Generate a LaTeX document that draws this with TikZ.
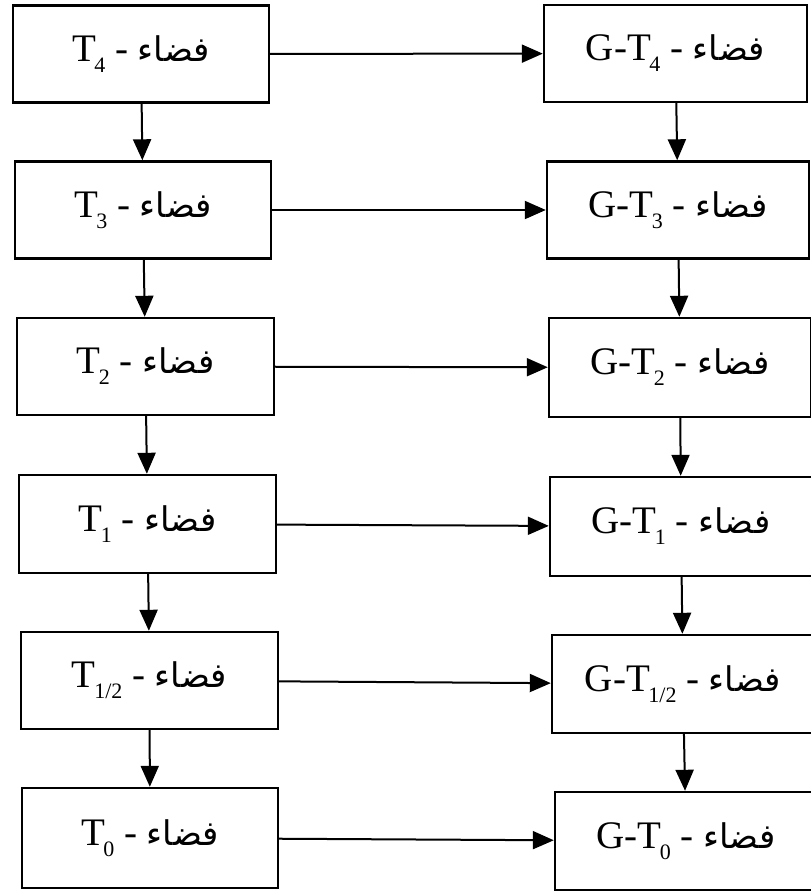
\documentclass[tikz,border=0pt]{standalone}
\usepackage{fontspec}
\setmainfont{Liberation Serif}
\newfontfamily\arabicfont[Script=Arabic]{DejaVu Sans}
\TeXXeTstate=1
\usetikzlibrary{arrows.meta}

% Arabic word, set right to left
\newcommand\arword[1]{{\arabicfont\fontsize{34}{34}\selectfont\beginR #1\endR}}
% lowered index after T
\newcommand\lowidx[1]{\kern-1.5pt\raisebox{-0.28em}{\fontsize{22}{22}\selectfont #1}}
\newcommand\spacelabel[1]{T\lowidx{#1} - \arword{فضاء}}
\newcommand\gspacelabel[1]{G-T\lowidx{#1} - \arword{فضاء}}

\tikzset{
  spacebox/.style={draw=black, line width=2.4pt, fill=white, inner sep=0pt,
    minimum width=#1, minimum height=97pt, font=\fontsize{39}{39}\selectfont},
  spacebox/.default=257pt,
  flow/.style={draw=black, line width=2pt,
    -{Triangle[length=21pt, width=18pt]}}
}

\begin{document}
\begin{tikzpicture}[x=1pt, y=-1pt]
  \useasboundingbox (0,0) rectangle (811,895);
  \fill[white] (0,0) rectangle (811,895);
  \clip (0,0) rectangle (811,895);

  % left column
  \node[spacebox=256pt] (L4) at (141,54)    {\spacelabel{4}};
  \node[spacebox=256pt] (L3) at (143,210)   {\spacelabel{3}};
  \node[spacebox]       (L2) at (145.5,366.5) {\spacelabel{2}};
  \node[spacebox, minimum height=98pt] (L1) at (147.5,524) {\spacelabel{1}};
  \node[spacebox]       (Lh) at (149.5,680.5) {\spacelabel{1/2}};
  \node[spacebox=256pt, minimum height=100pt] (L0) at (150,838) {\spacelabel{0}};

  % right column
  \node[spacebox=263pt] (R4) at (675.5,53.5) {\gspacelabel{4}};
  \node[spacebox=262pt] (R3) at (678,210)    {\gspacelabel{3}};
  \node[spacebox=262pt, minimum height=99pt] (R2) at (680,367.5) {\gspacelabel{2}};
  \node[spacebox=262pt, minimum height=99pt] (R1) at (681,526.5) {\gspacelabel{1}};
  \node[spacebox=262pt, minimum height=98pt] (Rh) at (683,684)   {\gspacelabel{1/2}};
  \node[spacebox=262pt, minimum height=98pt] (R0) at (686,841)   {\gspacelabel{0}};

  % downward links
  \foreach \a/\b in {L4/L3, L3/L2, L2/L1, L1/Lh, Lh/L0,
                     R4/R3, R3/R2, R2/R1, R1/Rh, Rh/R0}
    \draw[flow] (\a) -- (\b);

  % links across
  \foreach \a/\b in {L4/R4, L3/R3, L2/R2, L1/R1, Lh/Rh, L0/R0}
    \draw[flow] (\a) -- (\b);
\end{tikzpicture}
\end{document}
